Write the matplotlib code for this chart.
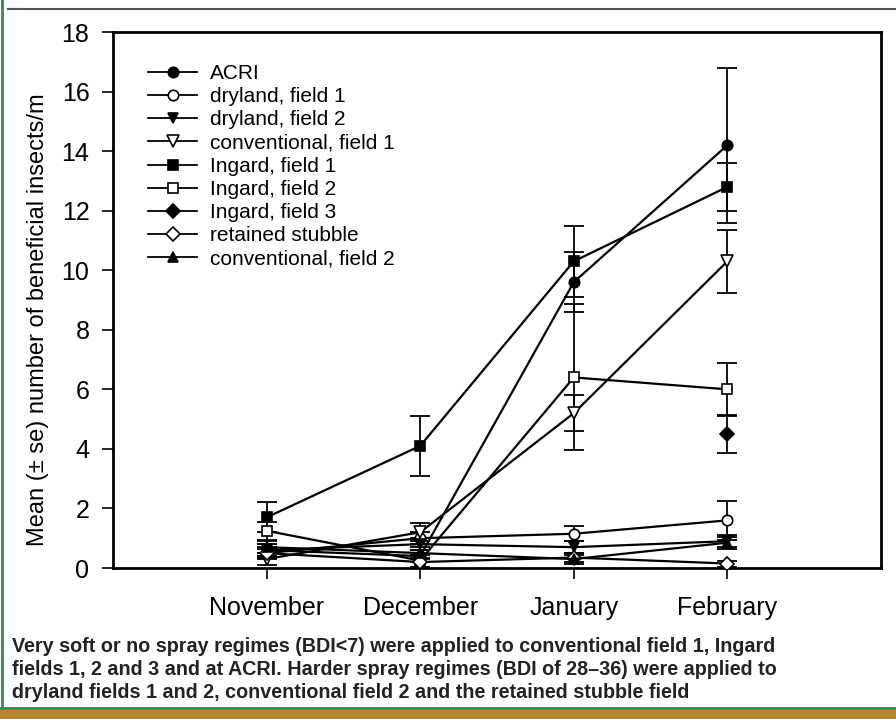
import numpy as np
import matplotlib
matplotlib.use("Agg")
import matplotlib.pyplot as plt
from matplotlib.lines import Line2D
from matplotlib.patches import Rectangle

plt.rcParams['font.family'] = ['Liberation Sans', 'DejaVu Sans']

months = ["November", "December", "January", "February"]
series = ["ACRI", "dryland, field 1", "dryland, field 2", "conventional, field 1",
          "Ingard, field 1", "Ingard, field 2", "Ingard, field 3", "retained stubble",
          "conventional, field 2"]
nan = np.nan
acri = [0.6, 0.4, 9.6, 14.2]
acri_se = [0.2, 0.2, 1.0, 2.6]
dry1 = [0.5, 1.0, 1.15, 1.6]
dry1_se = [0.2, 0.2, 0.25, 0.65]
dry2 = [0.6, 0.8, 0.7, 0.9]
dry2_se = [0.2, 0.2, 0.2, 0.2]
conv1 = [0.3, 1.2, 5.2, 10.3]
conv1_se = [0.2, 0.3, 0.6, 1.05]
ing1 = [1.7, 4.1, 10.3, 12.8]
ing1_se = [0.5, 1.0, 1.2, 0.8]
ing2 = [1.25, 0.25, 6.4, 6.0]
ing2_se = [0.3, 0.2, 2.45, 0.88]
ing3 = [nan, nan, nan, 4.5]
ing3_se = [nan, nan, nan, 0.63]
stub = [0.5, 0.2, 0.35, 0.15]
stub_se = [0.15, 0.15, 0.15, 0.1]
conv2 = [0.7, 0.5, 0.3, 0.85]
conv2_se = [0.2, 0.2, 0.15, 0.2]

caption = ("Very soft or no spray regimes (BDI<7) were applied to conventional field 1, Ingard\n"
           "fields 1, 2 and 3 and at ACRI. Harder spray regimes (BDI of 28\u201336) were applied to\n"
           "dryland fields 1 and 2, conventional field 2 and the retained stubble field")
ylabel = "Mean (\u00b1 se) number of beneficial insects/m"

values = [acri, dry1, dry2, conv1, ing1, ing2, ing3, stub, conv2]
errors = [acri_se, dry1_se, dry2_se, conv1_se, ing1_se, ing2_se, ing3_se, stub_se, conv2_se]
markers = ['o', 'o', 'v', 'v', 's', 's', 'D', 'D', '^']
fills = ['black', 'white', 'black', 'white', 'black', 'white', 'black', 'white', 'black']
msizes = [10, 10, 10, 11, 9, 9, 9, 9, 10]

fig = plt.figure(figsize=(8.96, 7.19), dpi=100)
ax = fig.add_axes([113/896, 1-568/719, 768/896, 536/719])

x = np.arange(1, 5)
handles = []
for v, e, m, fc, ms, name in zip(values, errors, markers, fills, msizes, series):
    v = np.array(v, dtype=float)
    e = np.array(e, dtype=float)
    ax.errorbar(x, v, yerr=e, fmt='none', ecolor='black', elinewidth=1.3,
                capsize=7, capthick=1.3, zorder=2)
    ax.plot(x, v, color='black', lw=1.6, marker=m, ms=ms * 0.75, mfc=fc,
            mec='black', mew=1.2, zorder=3)
    handles.append(Line2D([], [], color='black', lw=1.3, marker=m, ms=ms * 0.75,
                          mfc=fc, mec='black', mew=1.2))

ax.set_xlim(0, 5)
ax.set_ylim(0, 18)
ax.set_yticks(np.arange(0, 19, 2))
ax.set_xticks(x)
ax.set_xticklabels(months, fontsize=18)
ax.tick_params(axis='y', labelsize=18, direction='out', length=8, width=1.2, pad=9)
ax.tick_params(axis='x', direction='out', length=8, width=1.2, pad=12)
for s in ax.spines.values():
    s.set_linewidth(2)
ax.set_ylabel(ylabel, fontsize=17)
ax.yaxis.set_label_coords(-0.083, 0.5 - 20/536)

leg = ax.legend(handles, series, loc='upper left', bbox_to_anchor=(0.046, 0.94),
                frameon=False, fontsize=15, handlelength=2.35, handletextpad=0.6,
                labelspacing=0.2, borderaxespad=0, borderpad=0)

fig.text(12/896, 1-637/719, caption, fontsize=14.2, fontweight='bold', color='#222222',
         va='top', ha='left', linespacing=1.25)

# decorative frame
fig.add_artist(Line2D([8/896, 1], [1-9/719, 1-9/719], color='#555555', lw=1.5,
                      transform=fig.transFigure))
fig.add_artist(Line2D([1.5/896, 1.5/896], [1-708/719, 1], color='#2e8b57', lw=2,
                      transform=fig.transFigure))
fig.add_artist(Line2D([0, 1], [1-708/719, 1-708/719], color='#2e8b57', lw=2,
                      transform=fig.transFigure))
fig.add_artist(Rectangle((0, 0), 1, 9/719, transform=fig.transFigure,
                         color='#b8862e', lw=0))

fig.savefig("out.png", dpi=100)
